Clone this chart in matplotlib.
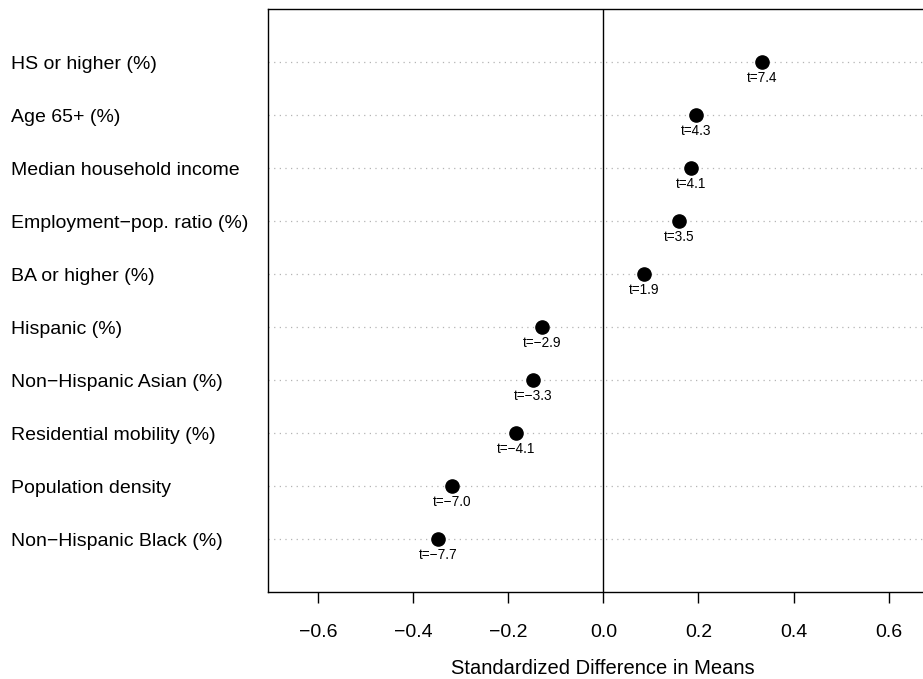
import matplotlib
matplotlib.use('Agg')
import matplotlib.pyplot as plt
from matplotlib.transforms import blended_transform_factory, offset_copy

plt.rcParams['font.family'] = ['Liberation Sans', 'DejaVu Sans']

# covariates, top to bottom
labels = ["HS or higher (%)", "Age 65+ (%)", "Median household income",
          "Employment\u2212pop. ratio (%)", "BA or higher (%)", "Hispanic (%)",
          "Non\u2212Hispanic Asian (%)", "Residential mobility (%)",
          "Population density", "Non\u2212Hispanic Black (%)"]
std_diff = [0.3335, 0.194, 0.1835, 0.160, 0.0855,
            -0.130, -0.1485, -0.184, -0.318, -0.3475]
t_stats = ["7.4", "4.3", "4.1", "3.5", "1.9",
           "\u22122.9", "\u22123.3", "\u22124.1", "\u22127.0", "\u22127.7"]
xticks = [-0.6, -0.4, -0.2, 0.0, 0.2, 0.4, 0.6]

fig = plt.figure(figsize=(9.23, 6.79), dpi=100)
ax = fig.add_axes([268 / 923, 87 / 679, 1 - 268 / 923, 583 / 679])

n = len(labels)
ypos = list(range(n, 0, -1))

for y in ypos:
    ax.axhline(y, color='#b4b4b4', lw=0.9, ls=(0, (1, 3.5)), zorder=1)
ax.axvline(0, color='black', lw=1.0, zorder=2)

ax.plot(std_diff, ypos, 'o', color='black', ms=9.5, zorder=3)
for x, y, t in zip(std_diff, ypos, t_stats):
    ax.annotate("t=" + t, (x, y), xytext=(0, -6.5), textcoords='offset points',
                ha='center', va='top', fontsize=9.8)

ax.set_xlim(-0.706, 0.6725)
ax.set_ylim(0, 11)
ax.set_yticks([])
ax.set_xticks(xticks)
ax.set_xticklabels(["\u2212%.1f" % -v if v < 0 else "%.1f" % v for v in xticks])
ax.tick_params(axis='x', length=8, width=1, labelsize=14, pad=15)
ax.spines['right'].set_visible(False)
for s in ['left', 'top', 'bottom']:
    ax.spines[s].set_linewidth(1.0)

# row labels, left-aligned at the figure edge, baseline a little below the row
trans = blended_transform_factory(fig.transFigure, ax.transData)
trans = offset_copy(trans, fig=fig, y=-7, units='dots')
for lab, y in zip(labels, ypos):
    ax.text(11 / 923, y, lab, transform=trans, ha='left', va='baseline',
            fontsize=14, clip_on=False)

fig.text(603 / 923, 11 / 679, "Standardized Difference in Means",
         ha='center', va='center', fontsize=14.5)

fig.savefig('out.png', dpi=100)
